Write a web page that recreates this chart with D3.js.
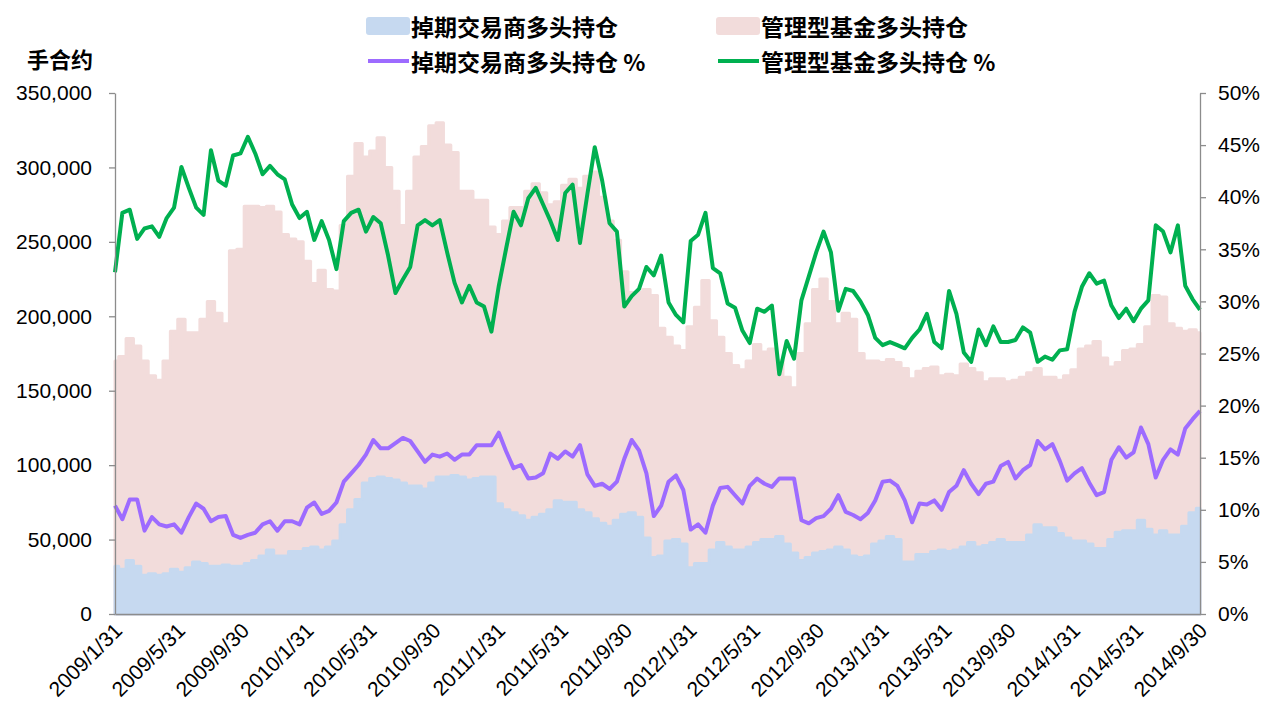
<!DOCTYPE html>
<html>
<head>
<meta charset="utf-8">
<script src="https://cdn.jsdelivr.net/npm/d3@7"></script>
<style>
  body { margin: 0; background: #fff; }
  svg text { font-family: "Liberation Sans", Arial, sans-serif; fill: #000; }
  .cn { font-family: "Noto Sans CJK SC", sans-serif; font-weight: bold; }
</style>
</head>
<body>
<svg id="chart"></svg>
<script>
// date range of the weekly-ish samples (read every ~2 weeks)
const startDate = "2009/1/31";
const endDate = "2014/9/30";

const tickLabels = ["2009/1/31", "2009/5/31", "2009/9/30", "2010/1/31", "2010/5/31", "2010/9/30",
  "2011/1/31", "2011/5/31", "2011/9/30", "2012/1/31", "2012/5/31", "2012/9/30",
  "2013/1/31", "2013/5/31", "2013/9/30", "2014/1/31", "2014/5/31", "2014/9/30"];

const seriesNames = ["掉期交易商多头持仓", "管理型基金多头持仓", "掉期交易商多头持仓 %", "管理型基金多头持仓 %"];

// swap dealers long, thousand contracts
const sdLong = [32, 30, 36, 32, 26, 27, 26, 27, 30, 28, 31, 35, 34, 32, 32, 33, 32, 32, 34, 36,
  39, 43, 39, 39, 42, 42, 44, 45, 43, 45, 49, 60, 70, 77, 88, 91, 92, 91, 90, 88,
  86, 86, 84, 88, 92, 92, 93, 92, 90, 91, 92, 92, 74, 70, 68, 66, 63, 65, 67, 70,
  76, 75, 75, 70, 68, 64, 61, 59, 63, 67, 68, 65, 51, 38, 39, 49, 50, 47, 31, 34,
  34, 43, 48, 45, 43, 43, 45, 48, 50, 50, 52, 47, 41, 36, 38, 41, 42, 43, 45, 43,
  39, 38, 39, 47, 49, 52, 50, 35, 35, 40, 40, 42, 43, 42, 43, 45, 48, 45, 46, 48,
  50, 48, 48, 48, 53, 60, 58, 58, 54, 51, 49, 49, 47, 44, 44, 50, 55, 56, 56, 63,
  57, 53, 56, 53, 53, 59, 68, 71];

// managed money long, thousand contracts
const mmLong = [170, 173, 185, 180, 170, 160, 157, 170, 190, 198, 189, 189, 198, 210, 202, 195, 244, 245, 274, 274,
  273, 274, 270, 255, 252, 250, 237, 222, 231, 218, 217, 261, 294, 316, 307, 311, 320, 300, 284, 261,
  284, 307, 314, 328, 330, 315, 310, 284, 284, 278, 278, 260, 255, 264, 273, 273, 284, 289, 283, 275,
  277, 288, 292, 286, 294, 297, 280, 264, 251, 230, 216, 216, 218, 214, 192, 186, 180, 177, 193, 206,
  224, 197, 186, 175, 167, 164, 170, 181, 176, 178, 170, 159, 152, 175, 195, 218, 225, 210, 195, 202,
  198, 175, 170, 170, 169, 171, 169, 165, 158, 163, 165, 166, 160, 161, 160, 168, 165, 162, 156, 158,
  158, 156, 157, 159, 162, 165, 159, 159, 157, 160, 164, 178, 180, 183, 172, 166, 169, 177, 178, 181,
  193, 214, 213, 195, 192, 190, 191, 189];

// swap dealers long, % of open interest
const sdPct = [10.4, 9.1, 11.0, 11.0, 8.0, 9.3, 8.6, 8.4, 8.6, 7.8, 9.3, 10.6, 10.1, 8.9, 9.3, 9.4, 7.6, 7.3, 7.6, 7.8,
  8.6, 8.9, 8.0, 8.9, 8.9, 8.6, 10.2, 10.7, 9.6, 9.9, 10.7, 12.7, 13.5, 14.3, 15.3, 16.7, 15.9, 15.9, 16.4, 16.9,
  16.6, 15.6, 14.6, 15.3, 15.1, 15.4, 14.8, 15.3, 15.3, 16.2, 16.2, 16.2, 17.4, 15.6, 14.0, 14.3, 13.0, 13.1, 13.5, 15.4,
  14.9, 15.6, 15.1, 16.2, 13.4, 12.3, 12.5, 12.0, 12.7, 14.9, 16.7, 15.7, 13.5, 9.4, 10.4, 12.7, 13.3, 11.9, 8.1, 8.6,
  7.8, 10.4, 12.1, 12.2, 11.4, 10.6, 12.3, 13.0, 12.5, 12.2, 13.0, 13.0, 13.0, 9.0, 8.7, 9.2, 9.4, 10.1, 11.4, 9.8,
  9.5, 9.1, 9.7, 10.9, 12.7, 12.8, 12.3, 10.9, 8.8, 10.6, 10.5, 10.9, 10.0, 11.7, 12.3, 13.8, 12.5, 11.5, 12.5, 12.7,
  14.2, 14.6, 13.0, 13.8, 14.3, 16.6, 15.8, 16.3, 14.7, 12.8, 13.5, 14.0, 12.6, 11.4, 11.7, 14.8, 16.0, 15.0, 15.5, 17.9,
  16.3, 13.1, 14.8, 15.8, 15.3, 17.8, 18.7, 19.5];

// managed money long, % of open interest
const mmPct = [32.8, 38.5, 38.8, 36.0, 37.0, 37.2, 36.2, 38.0, 39.0, 42.9, 40.9, 39.0, 38.3, 44.5, 41.6, 41.1, 44.0, 44.2, 45.8, 44.2,
  42.2, 43.0, 42.2, 41.7, 39.3, 38.0, 38.6, 35.9, 37.7, 35.9, 33.1, 37.7, 38.5, 38.8, 36.7, 38.1, 37.5, 34.4, 30.8, 32.1,
  33.3, 37.3, 37.8, 37.3, 37.8, 34.7, 31.8, 29.9, 31.5, 29.9, 29.5, 27.1, 31.5, 35.1, 38.6, 37.3, 39.9, 40.9, 39.3, 37.7,
  35.9, 40.4, 41.2, 35.6, 40.3, 44.8, 41.6, 37.5, 36.7, 29.5, 30.5, 31.2, 33.3, 32.5, 34.4, 29.9, 28.7, 28.0, 35.8, 36.4,
  38.5, 33.2, 32.7, 29.8, 29.4, 27.2, 26.0, 29.3, 29.0, 29.6, 23.0, 26.2, 24.5, 30.1, 32.4, 34.7, 36.7, 34.7, 29.1, 31.2,
  31.0, 30.0, 28.7, 26.5, 25.8, 26.1, 25.8, 25.5, 26.5, 27.3, 28.8, 26.1, 25.5, 31.0, 28.8, 25.1, 24.2, 27.3, 25.8, 27.6,
  26.1, 26.1, 26.3, 27.5, 27.0, 24.2, 24.7, 24.4, 25.3, 25.4, 29.0, 31.4, 32.7, 31.7, 32.0, 29.6, 28.4, 29.3, 28.1, 29.3,
  30.1, 37.3, 36.7, 34.7, 37.3, 31.5, 30.2, 29.2];

const colors = { sd: "#C6D9F0", mm: "#F2DCDB", sdPct: "#9D6BFF", mmPct: "#00B050", axis: "#8C8C8C" };

const W = 1270, H = 713;
const margin = { top: 93, right: 70, bottom: 99, left: 115 };
const innerW = W - margin.left - margin.right;
const innerH = H - margin.top - margin.bottom;

const parse = d3.timeParse("%Y/%m/%d");
const t0 = parse(startDate), t1 = parse(endDate);
const n = mmLong.length;
const data = d3.range(n).map(i => ({
  date: new Date(+t0 + i * (t1 - t0) / (n - 1)),
  sd: sdLong[i] * 1000,
  mm: mmLong[i] * 1000,
  sdPct: sdPct[i] / 100,
  mmPct: mmPct[i] / 100
}));

const svg = d3.select("#chart").attr("width", W).attr("height", H);
const g = svg.append("g").attr("transform", `translate(${margin.left},${margin.top})`);

const x = d3.scaleTime().domain([t0, t1]).range([0, innerW]);
const y = d3.scaleLinear().domain([0, 350000]).range([innerH, 0]);
const y2 = d3.scaleLinear().domain([0, 0.5]).range([innerH, 0]);

// areas - blocky look like the original, rounded corners from the stroke
const area = key => d3.area().curve(d3.curveStep)
  .x(d => x(d.date)).y0(y(0)).y1(d => y(d[key]));
g.append("path").datum(data)
  .attr("d", area("mm"))
  .attr("fill", colors.mm).attr("stroke", colors.mm)
  .attr("stroke-width", 3).attr("stroke-linejoin", "round");
g.append("path").datum(data)
  .attr("d", area("sd"))
  .attr("fill", colors.sd).attr("stroke", colors.sd)
  .attr("stroke-width", 3).attr("stroke-linejoin", "round");

// percentage lines
const line = key => d3.line().x(d => x(d.date)).y(d => y2(d[key]));
g.append("path").datum(data)
  .attr("d", line("sdPct"))
  .attr("fill", "none").attr("stroke", colors.sdPct)
  .attr("stroke-width", 4).attr("stroke-linejoin", "round");
g.append("path").datum(data)
  .attr("d", line("mmPct"))
  .attr("fill", "none").attr("stroke", colors.mmPct)
  .attr("stroke-width", 4).attr("stroke-linejoin", "round");

// axes
const styleAxis = sel => {
  sel.selectAll("path, line").attr("stroke", colors.axis).attr("stroke-width", 1.3);
  sel.selectAll("text").attr("font-size", 21).attr("fill", "#000")
    .attr("font-family", "'Liberation Sans', Arial, sans-serif");
};

g.append("g")
  .call(d3.axisLeft(y).tickValues(d3.range(0, 350001, 50000))
    .tickFormat(d3.format(",")).tickSize(6).tickSizeOuter(0).tickPadding(17))
  .call(styleAxis);

g.append("g")
  .attr("transform", `translate(${innerW},0)`)
  .call(d3.axisRight(y2).tickValues(d3.range(0, 11).map(k => k * 0.05))
    .tickFormat(d3.format(".0%")).tickSize(6).tickSizeOuter(0).tickPadding(12))
  .call(styleAxis);

const xAxis = g.append("g")
  .attr("transform", `translate(0,${innerH})`)
  .call(d3.axisBottom(x).tickValues(tickLabels.map(parse))
    .tickFormat(d3.timeFormat("%Y/%-m/%-d")).tickSize(0).tickSizeOuter(0))
  .call(styleAxis);
xAxis.selectAll("text")
  .attr("y", 0).attr("dy", 0)
  .attr("text-anchor", "end")
  .attr("transform", "translate(8,18) rotate(-45)");

// unit label
svg.append("text").attr("class", "cn")
  .attr("x", 60).attr("y", 58).attr("text-anchor", "middle")
  .attr("dominant-baseline", "central").attr("font-size", 22)
  .text("手合约");

// legend
const legend = svg.append("g");
const legendItems = [
  { name: seriesNames[0], type: "rect", color: colors.sd, x: 366, y: 26 },
  { name: seriesNames[1], type: "rect", color: colors.mm, x: 716, y: 26 },
  { name: seriesNames[2], type: "line", color: colors.sdPct, x: 366, y: 61 },
  { name: seriesNames[3], type: "line", color: colors.mmPct, x: 716, y: 61 }
];
legendItems.forEach(it => {
  if (it.type === "rect") {
    legend.append("rect").attr("x", it.x).attr("y", it.y - 9).attr("width", 44).attr("height", 18)
      .attr("rx", 3).attr("fill", it.color);
  } else {
    legend.append("line").attr("x1", it.x + 2).attr("x2", it.x + 43).attr("y1", it.y).attr("y2", it.y)
      .attr("stroke", it.color).attr("stroke-width", 4);
  }
  legend.append("text").attr("class", "cn")
    .attr("x", it.x + 45).attr("y", it.y)
    .attr("dominant-baseline", "central").attr("font-size", 23)
    .text(it.name);
});
</script>
</body>
</html>
